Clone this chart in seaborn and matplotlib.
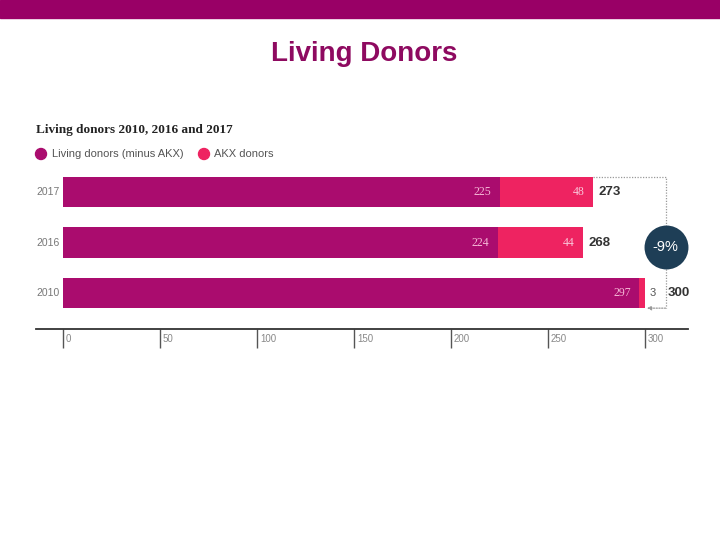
import matplotlib
matplotlib.use("Agg")
import matplotlib.pyplot as plt
import seaborn as sns
import pandas as pd
from matplotlib.patches import Rectangle, Ellipse

years = ["2017", "2016", "2010"]
living_minus_akx = [225, 224, 297]
akx_donors = [48, 44, 3]
totals = [273, 268, 300]
change_label = "-9%"
xticks = [0, 50, 100, 150, 200, 250, 300]

C_BASE = "#AA0C6E"
C_AKX = "#EE2361"
C_NAVY = "#1E3E56"

sns.set_theme(style="white")
plt.rcParams['font.family'] = ['Liberation Sans', 'DejaVu Sans']

df = pd.DataFrame({"year": years, "base": living_minus_akx, "akx": akx_donors, "total": totals})

fig = plt.figure(figsize=(7.2, 5.4), dpi=100)
# top band
fig.patches.append(Rectangle((0, 1 - 18 / 540), 1, 18 / 540, transform=fig.transFigure,
                             color="#990066", zorder=0))
fig.text(364 / 720, 1 - 54 / 540, "Living Donors", ha="center", va="center",
         fontsize=20, fontweight="bold", color="#8E0A60")

ax = fig.add_axes([36 / 720, 1 - 329 / 540, (688 - 36) / 720, (329 - 165) / 540])
sns.barplot(data=df, y="year", x="total", order=years, color=C_AKX, width=0.6,
            saturation=1, ax=ax, orient="h", linewidth=0, edgecolor="none")
sns.barplot(data=df, y="year", x="base", order=years, color=C_BASE, width=0.6,
            saturation=1, ax=ax, orient="h", linewidth=0, edgecolor="none")

ppu = (645 - 63) / 300.0
ax.set_xlim((36 - 63) / ppu, (688 - 63) / ppu)
ax.set_ylim(2.713, -0.535)
for s in ["top", "right", "left"]:
    ax.spines[s].set_visible(False)
ax.spines["bottom"].set_color("#333333")
ax.spines["bottom"].set_linewidth(1.3)
ax.set_xlabel("")
ax.set_ylabel("")
ax.set_yticks([])
ax.set_xticks(xticks)
ax.set_xticklabels([])
ax.tick_params(axis="x", direction="out", length=14, width=1, color="#555555", bottom=True)

trans = matplotlib.transforms.blended_transform_factory(ax.transData, ax.transAxes)
for t in xticks:
    ax.text(t + 3 / ppu, -0.03, str(t), transform=trans, ha="left", va="top",
            fontsize=7, color="#888888")

# year labels
for i, y in enumerate(years):
    ax.text((36 - 63) / ppu, i, y, ha="left", va="center", fontsize=7.5, color="#777777")

# value labels
for i in range(len(years)):
    b, a, t = living_minus_akx[i], akx_donors[i], totals[i]
    ax.text(b - 8 / ppu, i, str(b), ha="right", va="center", fontsize=8.5,
            color="#F5B8D6", family="Liberation Serif")
    if a >= 10:
        ax.text(t - 8 / ppu, i, str(a), ha="right", va="center", fontsize=8.5,
                color="#F9C6DA", family="Liberation Serif")
        ax.text(t + 6 / ppu, i, str(t), ha="left", va="center", fontsize=9.5,
                fontweight="bold", color="#333333")
    else:
        ax.text(t + 5 / ppu, i, str(a), ha="left", va="center", fontsize=8,
                color="#555555")
        ax.text(t + 23 / ppu, i, str(t), ha="left", va="center", fontsize=9.5,
                fontweight="bold", color="#333333")

# bracket
xr = totals[0] + (666 - 593) / ppu
ytop = -0.3
ybot = 2.3
ax.plot([totals[0], xr, xr], [ytop, ytop, ybot], ls=(0, (1, 1.2)), lw=0.9, color="#999999",
        clip_on=False)
ax.annotate("", xy=(totals[2] + 1, ybot), xytext=(xr, ybot),
            arrowprops=dict(arrowstyle="-|>", ls=(0, (1, 1.2)), lw=0.9, color="#999999",
                            mutation_scale=6, shrinkA=0, shrinkB=0), annotation_clip=False)
ax.scatter([xr], [1.08], s=1000, color=C_NAVY, zorder=5, clip_on=False, linewidths=0)
ax.text(xr, 1.08, change_label, ha="center", va="center", fontsize=10.5, color="white", zorder=6)

# chart title and legend
fig.text(36 / 720, 1 - 130 / 540, "Living donors 2010, 2016 and 2017", ha="left", va="center",
         fontsize=9.5, fontweight="bold", color="#222222", family="Liberation Serif")
fig.patches.append(Ellipse((41 / 720, 1 - 154 / 540), 11 / 720, 11 / 540,
                   transform=fig.transFigure, color=C_BASE))
fig.text(52 / 720, 1 - 154 / 540, "Living donors (minus AKX)", ha="left", va="center",
         fontsize=8, color="#555555")
fig.patches.append(Ellipse((204 / 720, 1 - 154 / 540), 11 / 720, 11 / 540,
                   transform=fig.transFigure, color=C_AKX))
fig.text(214 / 720, 1 - 154 / 540, "AKX donors", ha="left", va="center",
         fontsize=8, color="#555555")

fig.savefig("out.png", dpi=100)
